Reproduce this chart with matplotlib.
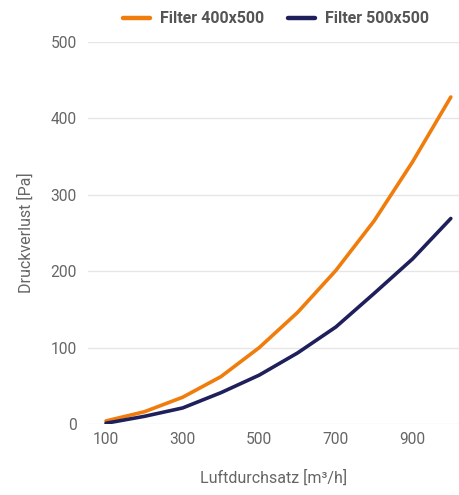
import matplotlib.pyplot as plt
from matplotlib.lines import Line2D

plt.rcParams['font.family'] = ['Roboto', 'DejaVu Sans']

# airflow [m3/h] and pressure drop [Pa]
airflow = [100, 200, 300, 400, 500, 600, 700, 800, 900, 1000]
filter_400 = [4, 16, 35, 62, 100, 146, 201, 266, 343, 428]
filter_500 = [1, 10, 21, 41, 64, 93, 127, 171, 216, 269]
series_names = ['Filter 400x500', 'Filter 500x500']
x_ticks = [100, 300, 500, 700, 900]
y_ticks = [0, 100, 200, 300, 400, 500]

orange = '#f07c0c'
navy = '#1f1f5c'
text_grey = '#666666'

fig = plt.figure(figsize=(4.6, 4.95), dpi=100)
ax = fig.add_axes([88 / 460, 71 / 495, 372 / 460, 382 / 495])

ax.plot(airflow, filter_400, color=orange, linewidth=2.6, solid_capstyle='round', zorder=3)
ax.plot(airflow, filter_500, color=navy, linewidth=2.6, solid_capstyle='round', zorder=3)

ax.set_xlim(53, 1024)
ax.set_ylim(0, 500)
ax.set_xticks(x_ticks)
ax.set_yticks(y_ticks)
ax.grid(axis='y', color='#e6e6e6', linewidth=1)
ax.set_axisbelow(True)
for s in ax.spines.values():
    s.set_visible(False)
ax.tick_params(length=0, labelsize=11.2, labelcolor=text_grey)
ax.tick_params(axis='y', pad=8)
ax.tick_params(axis='x', pad=6)

ax.set_xlabel('Luftdurchsatz [m³/h]', fontsize=11.5, color=text_grey, labelpad=16)
ax.set_ylabel('Druckverlust [Pa]', fontsize=11.5, color=text_grey, labelpad=12)

handles = [Line2D([], [], color=orange, linewidth=3.2, solid_capstyle='round'),
           Line2D([], [], color=navy, linewidth=3.2, solid_capstyle='round')]
leg = fig.legend(handles, series_names, loc='center', bbox_to_anchor=(0.6, 0.962),
                 ncol=2, frameon=False, handlelength=1.7, columnspacing=1.5,
                 handletextpad=0.6, prop={'weight': 'bold', 'size': 11.5})
for t in leg.get_texts():
    t.set_color('#555555')

fig.savefig('out.png', dpi=100)
